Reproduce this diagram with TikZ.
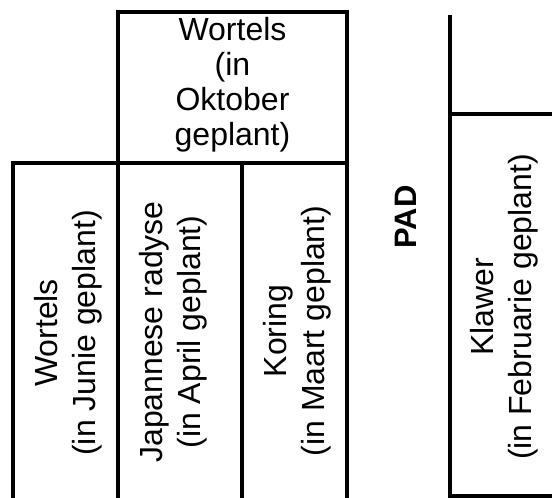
\documentclass[tikz,border=0pt]{standalone}
\usepackage{fontspec}
\setmainfont{Liberation Sans}
\begin{document}
\begin{tikzpicture}[x=1pt,y=-1pt,
    bed/.style={align=center,inner sep=0pt,font=\fontsize{32}{35}\selectfont},
    side/.style={bed,rotate=90,font=\fontsize{32}{38}\selectfont}]
  \useasboundingbox (0,0) rectangle (552,498);
  \draw
    (232.5,84.5) node[bed] (okt) {Wortels\\(in\\Oktober\\geplant)}
    (68,333) node[side] (jun) {Wortels\\(in Junie geplant)}
    (173,332) node[side] (apr) {Japannese radyse\\(in April geplant)}
    (297,331) node[side] (mrt) {Koring\\(in Maart geplant)}
    (406,217) node[side,font=\fontsize{31}{38}\selectfont\bfseries] (pad) {PAD}
    (504,307) node[side] (feb) {Klawer\\(in Februarie geplant)};
  \begin{scope}[line width=4pt]
    \draw (118,500) -- (118,12) -- (347,12) -- (347,500);
    \draw (13,500) -- (13,163) -- (347,163);
    \draw (242,163) -- (242,500);
    \draw (450,15) -- (450,496) -- (554,496);
    \draw (450,114) -- (554,114);
  \end{scope}
\end{tikzpicture}
\end{document}
